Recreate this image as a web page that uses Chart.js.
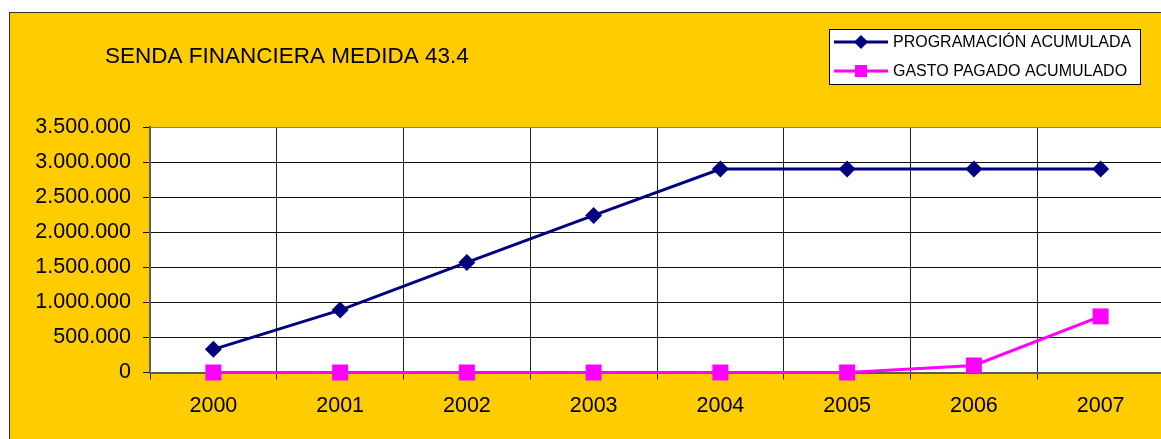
<!DOCTYPE html>
<html lang="es">
<head>
<meta charset="UTF-8">
<title>Senda financiera medida 43.4</title>
<script src="https://cdn.jsdelivr.net/npm/chart.js"></script>
<style>
    html, body { margin: 0; padding: 0; background: #fff; overflow: hidden; }
    .marco {
        position: absolute; left: 9px; top: 12px;
        width: 1170px; height: 440px;
        background: #FFCC00;
        border-left: 1px solid #333; border-top: 1px solid #333;
    }
    .marco canvas { display: block; }
</style>
</head>
<body>

<div class="marco">
    <canvas id="grafico" width="1170" height="440"></canvas>
</div>

<script>
// datos de la senda financiera
const anios = ['2000', '2001', '2002', '2003', '2004', '2005', '2006', '2007'];
const programacion = [330000, 890000, 1570000, 2240000, 2900000, 2900000, 2900000, 2900000];
const gastoPagado = [0, 0, 0, 0, 0, 0, 100000, 800000];
const nombresSeries = ['PROGRAMACIÓN ACUMULADA', 'GASTO PAGADO ACUMULADO'];
const ejeY = [0, 500000, 1000000, 1500000, 2000000, 2500000, 3000000, 3500000];
const titulo = 'SENDA FINANCIERA MEDIDA 43.4';

function formatoMiles(v) {
    return String(v).replace(/\B(?=(\d{3})+(?!\d))/g, '.');
}

// titulo y leyenda dibujados a mano, estilo hoja de calculo
const cajaLeyenda = {
    id: 'cajaLeyenda',
    afterDraw(chart) {
        const ctx = chart.ctx;
        ctx.save();
        ctx.fillStyle = '#000';
        ctx.font = '22.5px "Liberation Sans", Arial, sans-serif';
        ctx.textBaseline = 'middle';
        ctx.fillText(titulo, 95, 44);

        const x0 = 819, y0 = 16, w = 311, h = 55;
        ctx.fillStyle = '#fff';
        ctx.fillRect(x0, y0, w, h);
        ctx.strokeStyle = '#000';
        ctx.lineWidth = 1;
        ctx.strokeRect(x0 + 0.5, y0 + 0.5, w, h);

        const filas = [29, 58];
        chart.data.datasets.forEach((ds, i) => {
            const y = filas[i];
            ctx.strokeStyle = ds.borderColor;
            ctx.lineWidth = 3;
            ctx.beginPath();
            ctx.moveTo(824, y);
            ctx.lineTo(878, y);
            ctx.stroke();
            ctx.fillStyle = ds.backgroundColor;
            if (ds.pointStyle === 'rectRot') {
                ctx.beginPath();
                ctx.moveTo(851, y - 7);
                ctx.lineTo(858, y);
                ctx.lineTo(851, y + 7);
                ctx.lineTo(844, y);
                ctx.closePath();
                ctx.fill();
            } else {
                ctx.fillRect(845, y - 6, 12, 12);
            }
            ctx.fillStyle = '#000';
            ctx.font = '16px "Liberation Sans", Arial, sans-serif';
            ctx.fillText(ds.label, 883, y + 1);
        });
        ctx.restore();
    }
};

// fondo blanco y borde gris del area de trazado
const bordeArea = {
    id: 'bordeArea',
    beforeDraw(chart) {
        const a = chart.chartArea;
        chart.ctx.save();
        chart.ctx.fillStyle = '#fff';
        chart.ctx.fillRect(a.left, a.top, a.right - a.left, a.bottom - a.top);
        chart.ctx.restore();
    },
    beforeDatasetsDraw(chart) {
        const a = chart.chartArea;
        const ctx = chart.ctx;
        ctx.save();
        ctx.strokeStyle = '#808080';
        ctx.lineWidth = 1;
        ctx.strokeRect(a.left, a.top + 0.5, a.right - a.left, a.bottom - a.top);
        ctx.restore();
    }
};

const ctx = document.getElementById('grafico').getContext('2d');

new Chart(ctx, {
    type: 'line',
    data: {
        labels: anios,
        datasets: [{
            label: nombresSeries[0],
            data: programacion,
            borderColor: '#000080',
            backgroundColor: '#000080',
            borderWidth: 3,
            pointStyle: 'rectRot',
            pointRadius: 8.5,
            pointBorderWidth: 0,
            tension: 0,
            clip: false
        }, {
            label: nombresSeries[1],
            data: gastoPagado,
            borderColor: '#FF00FF',
            backgroundColor: '#FF00FF',
            borderWidth: 3,
            pointStyle: 'rect',
            pointRadius: 11.3,
            pointBorderWidth: 0,
            tension: 0,
            clip: false
        }]
    },
    options: {
        responsive: false,
        animation: false,
        events: [],
        layout: { padding: { top: 114, right: 16, left: 0, bottom: 0 } },
        plugins: {
            legend: { display: false },
            title: { display: false },
            tooltip: { enabled: false }
        },
        scales: {
            x: {
                offset: true,
                afterFit(scale) { scale.height = 80.5; },
                grid: {
                    color: '#222',
                    lineWidth: 1,
                    tickLength: 7,
                    offset: true
                },
                border: { color: '#333', width: 2 },
                ticks: {
                    color: '#000',
                    padding: 14,
                    font: { family: '"Liberation Sans", Arial, sans-serif', size: 21.5 }
                }
            },
            y: {
                min: 0,
                max: ejeY[ejeY.length - 1],
                afterFit(scale) { scale.width = 140; },
                afterBuildTicks(scale) {
                    scale.ticks = ejeY.map(v => ({ value: v }));
                },
                grid: {
                    color: '#111',
                    lineWidth: 1,
                    tickLength: 7
                },
                border: { color: '#404040', width: 2 },
                ticks: {
                    color: '#000',
                    padding: 12,
                    font: { family: '"Liberation Sans", Arial, sans-serif', size: 21.5 },
                    callback: v => formatoMiles(v)
                }
            }
        }
    },
    plugins: [bordeArea, cajaLeyenda]
});
</script>
</body>
</html>
